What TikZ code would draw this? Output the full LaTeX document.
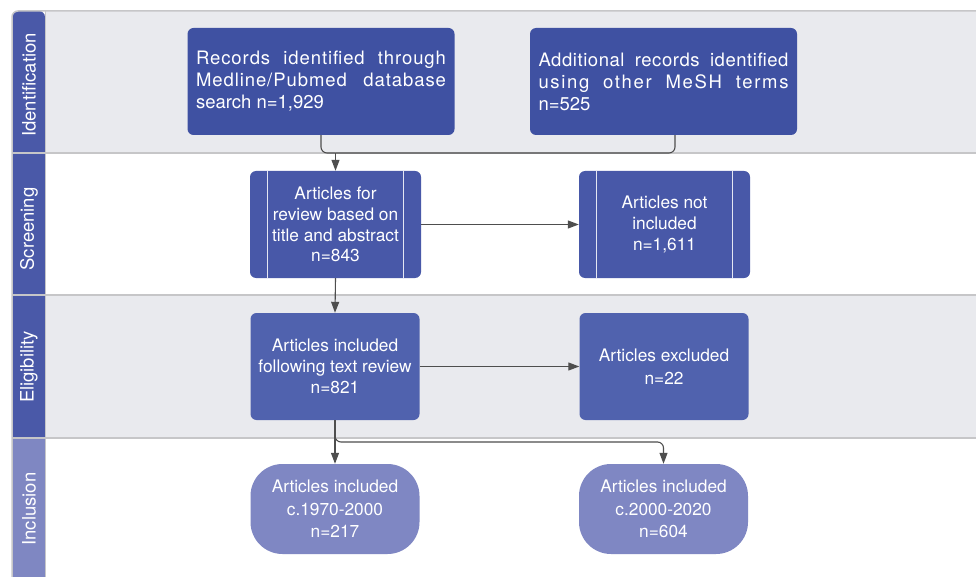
\documentclass[tikz,border=0pt]{standalone}
\usepackage{fontspec}
\setmainfont{TeX Gyre Heros}
\usetikzlibrary{arrows.meta}
\definecolor{cA}{HTML}{3F51A2}
\definecolor{cC}{HTML}{4858A8}
\definecolor{cE}{HTML}{5062AE}
\definecolor{cG}{HTML}{7F87C3}
\definecolor{hdDark}{HTML}{4A59A8}
\definecolor{hdLight}{HTML}{7F87C2}
\definecolor{laneGray}{HTML}{E9EAEE}
\definecolor{sepGray}{HTML}{C6C6C8}
\definecolor{connGray}{HTML}{4E4E4E}
\newcommand{\spreadline}[2]{\makebox[250pt][s]{\addfontfeature{LetterSpace=#1}#2}}
\tikzset{
  box/.style={rounded corners=6pt, text=white, inner sep=0pt, align=center,
    font=\fontsize{17.3}{20.7}\selectfont},
  topbox/.style={box, fill=cA, minimum width=267pt, minimum height=107pt, align=left,
    font=\fontsize{18.5}{22}\selectfont},
  procbox/.style={box, fill=cC, minimum width=171pt, minimum height=107pt},
  eligbox/.style={box, fill=cE, minimum width=169pt, minimum height=107pt},
  incbox/.style={box, fill=cG, rounded corners=32pt, minimum width=169pt, minimum height=90pt},
  lanelabel/.style={rotate=90, text=white, font=\fontsize{18.5}{22}\selectfont, inner sep=0pt},
  sepline/.style={draw=sepGray, line width=1.5pt},
  conn/.style={draw=connGray, line width=1.1pt, rounded corners=6pt},
  arr/.style={conn, -{Triangle[length=11pt,width=8pt]}},
  inner/.style={draw=white!85!cC, line width=0.9pt}
}
\begin{document}
\begin{tikzpicture}[x=1pt,y=-1pt]
\useasboundingbox (0,0) rectangle (976,577);
% lane backgrounds
\fill[laneGray] (46,11) rectangle (976,153);
\fill[white] (46,153) rectangle (976,295);
\fill[laneGray] (46,295) rectangle (976,438);
\fill[white] (46,438) rectangle (976,577);
% lane headers
\fill[hdDark, rounded corners=6pt] (12,153) -- (12,11) -- (45,11) [sharp corners] -- (45,153) -- cycle;
\fill[hdDark] (12,153) rectangle (45,295);
\fill[hdDark] (12,295) rectangle (45,438);
\fill[hdLight] (12,438) rectangle (45,577);
% separators
\draw[sepline, rounded corners=6pt] (12,577) -- (12,11) -- (976,11);
\draw[sepline] (45.5,11) -- (45.5,577);
\draw[sepline] (12,153) -- (976,153);
\draw[sepline] (12,295) -- (976,295);
\draw[sepline] (12,438) -- (976,438);
% lane labels
\node[lanelabel] (L1) at (29,85) {Identification};
\node[lanelabel] (L2) at (29,229) {Screening};
\node[lanelabel] (L3) at (29,367) {Eligibility};
\node[lanelabel] (L4) at (29,509) {Inclusion};
% nodes
\node[topbox] (A) at (321,81.5) {\spreadline{5}{Records identified through}\\\spreadline{5}{Medline/Pubmed database}\\search n=1,929};
\node[topbox] (B) at (663.5,81.5) {\spreadline{3}{Additional records identified}\\\spreadline{9}{using other MeSH terms}\\n=525};
\node[procbox] (C) at (335.5,224.5) {Articles for\\review based on\\title and abstract\\n=843};
\node[procbox] (D) at (664.5,224.5) {Articles not\\included\\n=1,611};
\node[eligbox] (E) at (335,366.5) {Articles included\\following text review\\n=821};
\node[eligbox, font=\fontsize{17.3}{23}\selectfont] (F) at (664,366.5) {Articles excluded\\n=22};
\node[incbox, font=\fontsize{17.3}{22.5}\selectfont] (G) at (335,509) {Articles included\\c.1970-2000\\n=217};
\node[incbox, font=\fontsize{17.3}{22.5}\selectfont] (H) at (663.5,509) {Articles included\\c.2000-2020\\n=604};
% predefined-process inner lines
\draw[inner] ([xshift=17.5pt]C.north west) -- ([xshift=17.5pt]C.south west);
\draw[inner] ([xshift=-17.5pt]C.north east) -- ([xshift=-17.5pt]C.south east);
\draw[inner] ([xshift=17.5pt]D.north west) -- ([xshift=17.5pt]D.south west);
\draw[inner] ([xshift=-17.5pt]D.north east) -- ([xshift=-17.5pt]D.south east);
% connectors
\coordinate (J) at (335.5,153);
\coordinate (K) at (335,442);
\draw[conn] (A.south) |- (J);
\draw[conn] ([xshift=11.5pt]B.south) |- (J);
\draw[arr] (J) -- (C.north);
\draw[arr] (C.east) -- (D.west);
\draw[arr] (C.south) -- (E.north);
\draw[arr] (E.east) -- (F.west);
\draw[arr] (E.south) -- (G.north);
\draw[arr] (E.south) -- (K) -| (H.north);
\end{tikzpicture}
\end{document}
